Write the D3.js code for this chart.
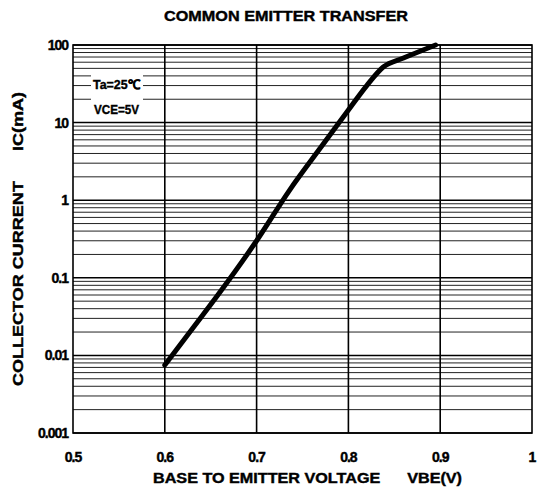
<!DOCTYPE html>
<html>
<head>
<meta charset="utf-8">
<script src="https://cdn.jsdelivr.net/npm/d3@7"></script>
<style>
  body { margin: 0; background: #fff; }
  svg text { font-family: "Liberation Sans", Arial, sans-serif; font-weight: bold; fill: #000; stroke: #000; stroke-width: 0.4; }
</style>
</head>
<body>
<svg id="chart" width="540" height="489"></svg>
<script>
// curve
const vbe = [0.600, 0.630, 0.660, 0.700, 0.736, 0.770, 0.800, 0.820, 0.838, 0.860, 0.880, 0.895]
const ic  = [0.0075, 0.022, 0.065, 0.30, 1.35, 4.8, 14.5, 30, 52, 68, 85, 100]
const xTicks = [0.5, 0.6, 0.7, 0.8, 0.9, 1]
const xTickLabels = ["0.5", "0.6", "0.7", "0.8", "0.9", "1"]
const yTicks = [0.001, 0.01, 0.1, 1, 10, 100]
const yTickLabels = ["0.001", "0.01", "0.1", "1", "10", "100"]

const svg = d3.select("#chart")
const L = 73, R = 532, T = 45, B = 433

const x = d3.scaleLinear().domain([0.5, 1]).range([L, R])
const y = d3.scaleLog().domain([0.001, 100]).range([B, T])

//minor grid: 2..9 of every decade
let minor = []
for (let d = -3; d < 2; d++) {
  for (let m = 2; m < 10; m++) minor.push(m * Math.pow(10, d))
}
let g = svg.append("g").attr("class", "grid")
g.selectAll("line.minor").data(minor).enter().append("line")
  .attr("class", "minor")
  .attr("x1", L).attr("x2", R)
  .attr("y1", d => y(d)).attr("y2", d => y(d))
  .attr("stroke", "#222").attr("stroke-width", 1)
g.selectAll("line.major").data(yTicks).enter().append("line")
  .attr("class", "major")
  .attr("x1", L).attr("x2", R)
  .attr("y1", d => y(d)).attr("y2", d => y(d))
  .attr("stroke", "#000").attr("stroke-width", 1.5)
g.selectAll("line.vert").data(xTicks.slice(1, -1)).enter().append("line")
  .attr("class", "vert")
  .attr("x1", d => x(d)).attr("x2", d => x(d))
  .attr("y1", T).attr("y2", B)
  .attr("stroke", "#000").attr("stroke-width", 1.6)

//annotation box (white behind text)
svg.append("rect").attr("x", 91).attr("y", 72).attr("width", 52).attr("height", 48).attr("fill", "#fff")
svg.append("text").attr("x", 93).attr("y", 89)
  .attr("font-size", 13).attr("textLength", 47).attr("lengthAdjust", "spacingAndGlyphs").text("Ta=25℃")
svg.append("text").attr("x", 94).attr("y", 114)
  .attr("font-size", 13).attr("textLength", 45).attr("lengthAdjust", "spacingAndGlyphs").text("VCE=5V")

//frame
svg.append("rect").attr("x", L).attr("y", T).attr("width", R - L).attr("height", B - T)
  .attr("fill", "none").attr("stroke", "#000").attr("stroke-width", 1.6)

//curve
const line = d3.line().x((d, i) => x(vbe[i])).y(d => y(d)).curve(d3.curveMonotoneX)
svg.append("path").datum(ic).attr("d", line)
  .attr("fill", "none").attr("stroke", "#000").attr("stroke-width", 5).attr("stroke-linecap", "round")

//tick labels
svg.append("g").selectAll("text").data(yTicks).enter().append("text")
  .attr("x", 68).attr("y", d => y(d) + 5).attr("text-anchor", "end")
  .attr("font-size", 14).attr("letter-spacing", -1)
  .text((d, i) => yTickLabels[i])
svg.append("g").selectAll("text").data(xTicks).enter().append("text")
  .attr("x", d => x(d)).attr("y", 462).attr("text-anchor", "middle")
  .attr("font-size", 14).attr("letter-spacing", -1)
  .text((d, i) => xTickLabels[i])

//titles
svg.append("text").attr("x", 164).attr("y", 21)
  .attr("font-size", 14).attr("textLength", 244).attr("lengthAdjust", "spacingAndGlyphs")
  .text("COMMON EMITTER TRANSFER")
svg.append("text").attr("x", 153).attr("y", 483).attr("xml:space", "preserve")
  .attr("font-size", 14).attr("textLength", 309).attr("lengthAdjust", "spacingAndGlyphs")
  .text("BASE TO EMITTER VOLTAGE      VBE(V)")
svg.append("text").attr("transform", "translate(23,386) rotate(-90)").attr("xml:space", "preserve")
  .attr("font-size", 14).attr("textLength", 294).attr("lengthAdjust", "spacingAndGlyphs")
  .text("COLLECTOR CURRENT      IC(mA)")
</script>
</body>
</html>
